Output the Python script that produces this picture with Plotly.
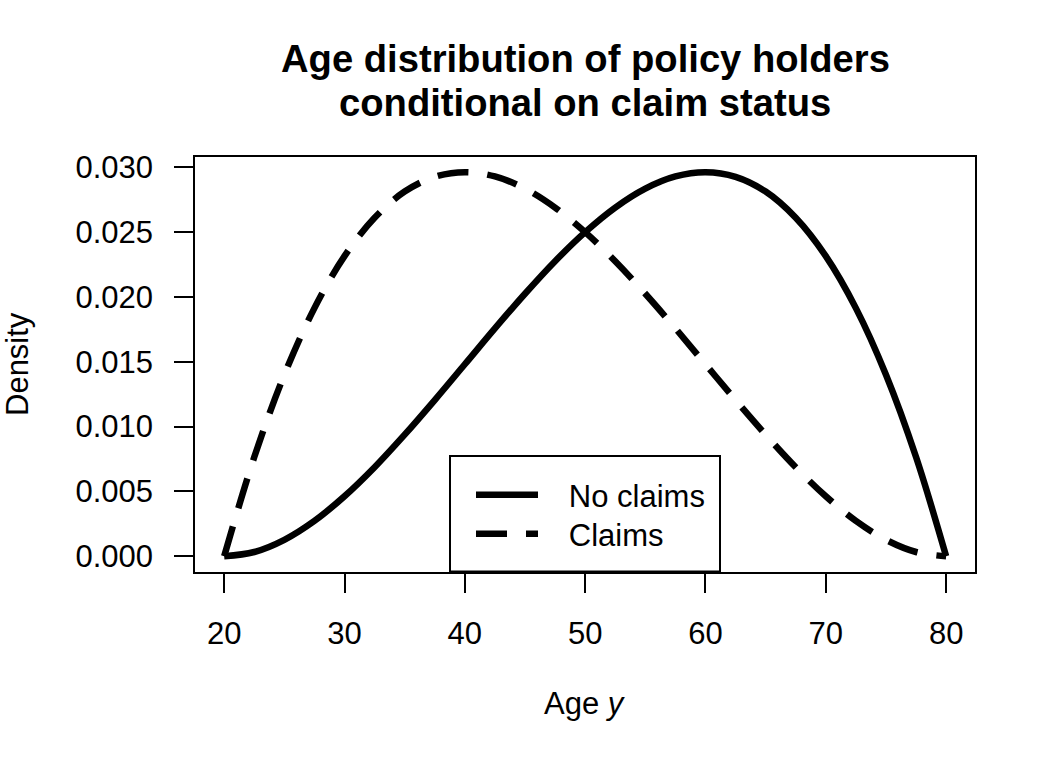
import plotly.graph_objects as go

# Data
age = [20, 22.5, 25, 27.5, 30, 32.5, 35, 37.5, 40, 42.5, 45, 47.5, 50,
       52.5, 55, 57.5, 60, 62.5, 65, 67.5, 70, 72.5, 75, 77.5, 80]
no_claims = [0.0, 0.00033, 0.00127, 0.00273, 0.00463, 0.00687, 0.00938, 0.01205,
             0.01481, 0.01758, 0.02025, 0.02276, 0.02500, 0.02690, 0.02836, 0.02930,
             0.02963, 0.02927, 0.02813, 0.02611, 0.02315, 0.01914, 0.01400, 0.00765, 0.0]
claims = [0.0, 0.00765, 0.01400, 0.01914, 0.02315, 0.02611, 0.02813, 0.02927,
          0.02963, 0.02930, 0.02836, 0.02690, 0.02500, 0.02276, 0.02025, 0.01758,
          0.01481, 0.01205, 0.00938, 0.00687, 0.00463, 0.00273, 0.00127, 0.00033, 0.0]
x_ticks = [20, 30, 40, 50, 60, 70, 80]
y_ticks = [0.000, 0.005, 0.010, 0.015, 0.020, 0.025, 0.030]

W, H = 1056, 768
FONT = "Liberation Sans, Arial, Helvetica, sans-serif"
BASE = 31
PAD = "\u00a0\u00a0\u00a0"

def px(x):
    return x / W

def py(y):
    return 1 - y / H

fig = go.Figure()
fig.add_trace(go.Scatter(x=age, y=no_claims, mode="lines", name=PAD + "No claims",
                         legend="legend",
                         line=dict(color="black", width=6.5, shape="spline")))
fig.add_trace(go.Scatter(x=age, y=claims, mode="lines", name=PAD + "Claims",
                         legend="legend2",
                         line=dict(color="black", width=6.5, shape="spline",
                                   dash="31px,19px")))

axis_common = dict(showgrid=False, zeroline=False, showline=True, mirror=True,
                   linecolor="black", linewidth=2, ticks="outside", ticklen=19,
                   tickwidth=2, tickcolor="black", automargin=False,
                   tickfont=dict(family=FONT, size=BASE, color="black"))

legend_common = dict(xanchor="left", yanchor="middle",
                     bgcolor="rgba(0,0,0,0)", borderwidth=0,
                     font=dict(family=FONT, size=BASE, color="black"),
                     itemwidth=62)

fig.update_layout(
    width=W, height=H,
    margin=dict(l=0, r=0, t=0, b=0),
    paper_bgcolor="white", plot_bgcolor="white",
    xaxis=dict(domain=[px(195.3), px(975)], range=[17.6, 82.4],
               tickvals=x_ticks, ticktext=[str(v) for v in x_ticks],
               ticklabelstandoff=14, **axis_common),
    yaxis=dict(domain=[py(571.7), py(156.7)], range=[-0.00119, 0.03082],
               tickvals=y_ticks, tickformat=".3f",
               ticklabelstandoff=15, **axis_common),
    showlegend=True,
    legend=dict(x=px(471), y=py(495), **legend_common),
    legend2=dict(x=px(471), y=py(534), **legend_common),
    shapes=[dict(type="rect", xref="paper", yref="paper",
                 x0=px(450), x1=px(720), y0=py(571.5), y1=py(456),
                 line=dict(color="black", width=2), fillcolor="rgba(0,0,0,0)")],
    annotations=[
        dict(text="<b>Age distribution of policy holders</b>", x=px(585), y=py(59),
             xref="paper", yref="paper", showarrow=False, xanchor="center", yanchor="middle",
             font=dict(family=FONT, size=38.2, color="black")),
        dict(text="<b>conditional on claim status</b>", x=px(585), y=py(102),
             xref="paper", yref="paper", showarrow=False, xanchor="center", yanchor="middle",
             font=dict(family=FONT, size=38.2, color="black")),
        dict(text="Age <i>y</i>", x=px(585), y=py(703),
             xref="paper", yref="paper", showarrow=False, xanchor="center", yanchor="middle",
             font=dict(family=FONT, size=BASE, color="black")),
        dict(text="Density", x=px(18), y=py(364), textangle=-90,
             xref="paper", yref="paper", showarrow=False, xanchor="center", yanchor="middle",
             font=dict(family=FONT, size=BASE, color="black")),
    ],
)

fig.write_html("out.html")
